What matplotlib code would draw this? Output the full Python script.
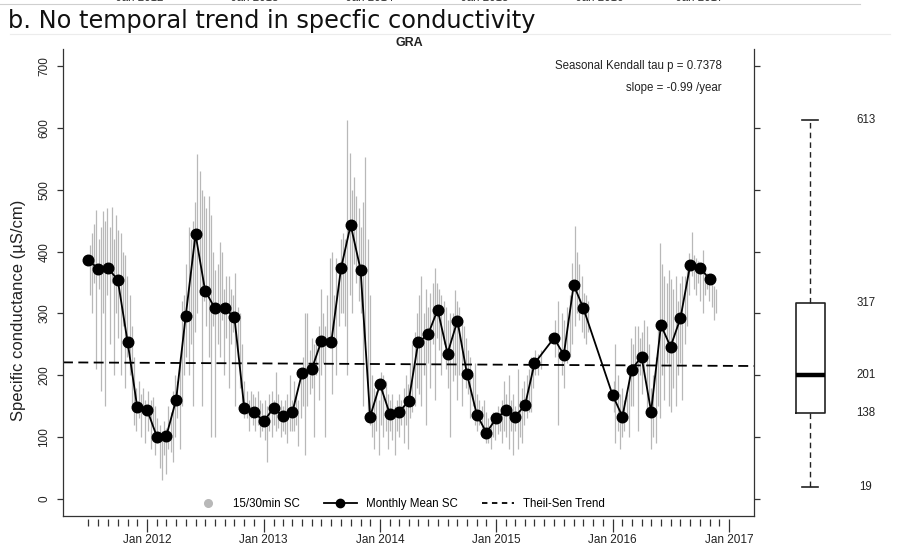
import matplotlib
matplotlib.use("Agg")
import matplotlib.pyplot as plt
import matplotlib.dates as mdates
from matplotlib.lines import Line2D

plt.rcParams['font.family'] = ['Liberation Sans', 'DejaVu Sans']

# ---------------------------------------------------------------- data
# Monthly mean specific conductance (uS/cm), plotted at the first of the month
month_labels = [
    '2011-07', '2011-08', '2011-09', '2011-10', '2011-11', '2011-12',
    '2012-01', '2012-02', '2012-03', '2012-04', '2012-05', '2012-06',
    '2012-07', '2012-08', '2012-09', '2012-10', '2012-11', '2012-12',
    '2013-01', '2013-02', '2013-03', '2013-04', '2013-05', '2013-06',
    '2013-07', '2013-08', '2013-09', '2013-10', '2013-11', '2013-12',
    '2014-01', '2014-02', '2014-03', '2014-04', '2014-05', '2014-06',
    '2014-07', '2014-08', '2014-09', '2014-10', '2014-11', '2014-12',
    '2015-01', '2015-02', '2015-03', '2015-04', '2015-05', '2015-07',
    '2015-08', '2015-09', '2015-10', '2016-01', '2016-02', '2016-03',
    '2016-04', '2016-05', '2016-06', '2016-07', '2016-08', '2016-09',
    '2016-10', '2016-11',
]
monthly_mean = [
    386, 372, 373, 354, 253, 148,
    144, 100, 101, 160, 295, 428,
    337, 308, 308, 294, 147, 141,
    125, 147, 134, 140, 203, 210,
    255, 253, 374, 443, 371, 133,
    185, 137, 140, 158, 253, 266,
    306, 235, 288, 202, 136, 107,
    130, 143, 133, 151, 219, 260,
    233, 346, 309, 168, 133, 209,
    230, 141, 281, 246, 292, 379,
    373, 356,
]

# 15/30-minute sensor record, summarised as weekly low/high spreads
streak_dates = [
    '2011-07-05', '2011-07-12', '2011-07-19', '2011-07-26', '2011-08-02', '2011-08-08',
    '2011-08-15', '2011-08-22', '2011-08-29', '2011-09-05', '2011-09-12', '2011-09-19',
    '2011-09-26', '2011-10-03', '2011-10-10', '2011-10-17', '2011-10-24', '2011-10-31',
    '2011-11-07', '2011-11-14', '2011-11-21', '2011-11-28', '2011-12-05', '2011-12-12',
    '2011-12-19', '2011-12-26', '2012-01-05', '2012-01-12', '2012-01-19', '2012-01-26',
    '2012-02-02', '2012-02-09', '2012-02-16', '2012-02-23', '2012-03-01', '2012-03-08',
    '2012-03-15', '2012-03-22', '2012-03-29', '2012-04-05', '2012-04-12', '2012-04-19',
    '2012-04-26', '2012-05-03', '2012-05-10', '2012-05-17', '2012-05-24', '2012-05-31',
    '2012-06-07', '2012-06-14', '2012-06-21', '2012-06-28', '2012-07-05', '2012-07-12',
    '2012-07-19', '2012-07-26', '2012-08-02', '2012-08-09', '2012-08-16', '2012-08-23',
    '2012-08-30', '2012-09-06', '2012-09-13', '2012-09-20', '2012-09-27', '2012-10-04',
    '2012-10-11', '2012-10-18', '2012-10-25', '2012-11-01', '2012-11-08', '2012-11-15',
    '2012-11-22', '2012-11-29', '2012-12-06', '2012-12-13', '2012-12-20', '2012-12-27',
    '2013-01-05', '2013-01-12', '2013-01-19', '2013-01-26', '2013-02-02', '2013-02-09',
    '2013-02-16', '2013-02-23', '2013-03-02', '2013-03-09', '2013-03-16', '2013-03-23',
    '2013-03-30', '2013-04-06', '2013-04-13', '2013-04-20', '2013-04-27', '2013-05-04',
    '2013-05-11', '2013-05-18', '2013-05-25', '2013-06-01', '2013-06-08', '2013-06-15',
    '2013-06-22', '2013-06-29', '2013-07-06', '2013-07-13', '2013-07-20', '2013-07-27',
    '2013-08-03', '2013-08-10', '2013-08-17', '2013-08-24', '2013-08-31', '2013-09-07',
    '2013-09-14', '2013-09-21', '2013-09-28', '2013-10-05', '2013-10-12', '2013-10-19',
    '2013-10-26', '2013-11-02', '2013-11-09', '2013-11-16', '2013-11-23', '2013-11-30',
    '2013-12-07', '2013-12-14', '2013-12-21', '2013-12-28', '2014-01-05', '2014-01-12',
    '2014-01-19', '2014-01-26', '2014-02-02', '2014-02-09', '2014-02-16', '2014-02-23',
    '2014-03-02', '2014-03-09', '2014-03-16', '2014-03-23', '2014-03-30', '2014-04-06',
    '2014-04-13', '2014-04-20', '2014-04-27', '2014-05-04', '2014-05-11', '2014-05-18',
    '2014-05-25', '2014-06-01', '2014-06-08', '2014-06-15', '2014-06-22', '2014-06-29',
    '2014-07-06', '2014-07-13', '2014-07-20', '2014-07-27', '2014-08-03', '2014-08-10',
    '2014-08-17', '2014-08-24', '2014-08-31', '2014-09-07', '2014-09-14', '2014-09-21',
    '2014-09-28', '2014-10-05', '2014-10-12', '2014-10-19', '2014-10-26', '2014-11-02',
    '2014-11-09', '2014-11-16', '2014-11-23', '2014-11-30', '2014-12-07', '2014-12-14',
    '2014-12-21', '2014-12-28', '2015-01-05', '2015-01-12', '2015-01-19', '2015-01-26',
    '2015-02-02', '2015-02-09', '2015-02-16', '2015-02-23', '2015-03-02', '2015-03-09',
    '2015-03-16', '2015-03-23', '2015-03-30', '2015-04-06', '2015-04-13', '2015-04-20',
    '2015-04-27', '2015-05-04', '2015-05-11', '2015-05-20', '2015-07-05', '2015-07-15',
    '2015-07-25', '2015-08-03', '2015-08-12', '2015-08-20', '2015-08-28', '2015-09-05',
    '2015-09-12', '2015-09-19', '2015-09-26', '2015-10-03', '2015-10-10', '2015-10-17',
    '2016-01-05', '2016-01-10', '2016-01-17', '2016-01-24', '2016-01-31', '2016-02-07',
    '2016-02-14', '2016-02-21', '2016-02-28', '2016-03-06', '2016-03-13', '2016-03-20',
    '2016-03-27', '2016-04-03', '2016-04-10', '2016-04-17', '2016-04-24', '2016-05-01',
    '2016-05-08', '2016-05-15', '2016-05-22', '2016-05-29', '2016-06-05', '2016-06-12',
    '2016-06-19', '2016-06-26', '2016-07-03', '2016-07-10', '2016-07-17', '2016-07-24',
    '2016-07-31', '2016-08-07', '2016-08-14', '2016-08-21', '2016-08-28', '2016-09-05',
    '2016-09-12', '2016-09-19', '2016-09-26', '2016-10-03', '2016-10-10', '2016-10-17',
    '2016-10-24', '2016-10-31', '2016-11-07', '2016-11-14', '2016-11-21',
]
streak_low = [
    330, 300, 350, 210, 340, 175, 300, 150, 330, 250, 350, 200,
    300, 260, 200, 280, 180, 230, 200, 150, 120, 110, 130, 100,
    140, 90, 110, 80, 120, 70, 90, 50, 30, 70, 40, 80,
    75, 60, 100, 130, 80, 150, 200, 230, 200, 250, 150, 270,
    300, 330, 150, 320, 280, 230, 100, 280, 100, 250, 230, 290,
    200, 260, 180, 250, 270, 150, 230, 180, 140, 130, 130, 110,
    130, 120, 110, 120, 100, 110, 95, 60, 110, 100, 120, 110,
    115, 100, 110, 105, 90, 110, 110, 110, 120, 85, 130, 150,
    70, 150, 170, 180, 100, 200, 160, 200, 220, 100, 250, 250,
    170, 250, 200, 280, 300, 300, 280, 200, 330, 300, 380, 350,
    320, 300, 150, 250, 140, 120, 100, 80, 110, 70, 120, 100,
    110, 80, 110, 95, 70, 110, 100, 120, 90, 120, 80, 130,
    140, 150, 180, 170, 150, 200, 120, 220, 180, 250, 160, 260,
    240, 200, 250, 210, 180, 100, 190, 200, 160, 200, 150, 220,
    180, 170, 130, 150, 120, 110, 120, 100, 110, 90, 90, 80,
    100, 95, 105, 110, 90, 110, 100, 80, 110, 70, 110, 80,
    100, 90, 120, 130, 140, 140, 180, 200, 200, 210, 230, 120,
    200, 180, 220, 230, 250, 280, 300, 290, 270, 260, 250, 270,
    140, 90, 110, 80, 100, 110, 130, 100, 150, 150, 200, 110,
    200, 170, 200, 140, 160, 80, 100, 90, 150, 130, 200, 160,
    220, 150, 140, 180, 150, 200, 220, 160, 250, 280, 330, 360,
    340, 330, 350, 320, 300, 330, 340, 320, 310, 290, 300,
]
streak_high = [
    410, 430, 445, 468, 420, 440, 465, 450, 470, 440, 473, 420,
    460, 435, 430, 400, 395, 360, 330, 280, 230, 180, 190, 170,
    180, 160, 175, 160, 165, 150, 130, 120, 110, 125, 115, 150,
    140, 175, 200, 190, 230, 320, 330, 380, 440, 420, 450, 480,
    558, 530, 500, 490, 470, 490, 460, 400, 370, 380, 415, 400,
    340, 360, 360, 340, 330, 366, 310, 300, 250, 190, 175, 160,
    175, 170, 165, 175, 160, 155, 160, 150, 170, 175, 160, 205,
    170, 160, 150, 160, 170, 200, 160, 190, 170, 160, 210, 230,
    300, 300, 240, 260, 250, 250, 280, 340, 300, 280, 330, 390,
    400, 330, 390, 380, 420, 430, 420, 613, 560, 500, 520, 490,
    470, 440, 480, 553, 420, 330, 200, 180, 175, 160, 205, 200,
    190, 170, 160, 170, 150, 160, 170, 160, 180, 200, 185, 220,
    250, 270, 300, 330, 360, 300, 340, 310, 333, 350, 374, 350,
    340, 330, 320, 310, 290, 300, 300, 338, 320, 310, 290, 280,
    260, 240, 230, 200, 220, 170, 160, 150, 160, 140, 130, 125,
    140, 135, 150, 140, 160, 190, 170, 200, 160, 170, 150, 210,
    160, 180, 190, 200, 210, 230, 230, 240, 235, 240, 290, 320,
    300, 290, 310, 330, 382, 441, 400, 380, 360, 333, 330, 320,
    190, 250, 200, 170, 180, 160, 170, 200, 260, 250, 279, 280,
    260, 270, 290, 280, 250, 180, 200, 230, 290, 414, 380, 360,
    350, 370, 355, 340, 360, 320, 350, 360, 360, 380, 398, 432,
    395, 390, 385, 380, 403, 370, 365, 360, 350, 345, 340,
]

# Theil-Sen trend
trend_slope_per_year = -0.99
trend_ref_date = '2014-01-01'
trend_ref_value = 218.0

# Distribution summary of the sensor record
box_whislo, box_q1, box_med, box_q3, box_whishi = 19, 138, 201, 317, 613

year_ticks = ['2012-01-01', '2013-01-01', '2014-01-01', '2015-01-01', '2016-01-01', '2017-01-01']
year_tick_labels = ['Jan 2012', 'Jan 2013', 'Jan 2014', 'Jan 2015', 'Jan 2016', 'Jan 2017']
y_ticks = [0, 100, 200, 300, 400, 500, 600, 700]

# ---------------------------------------------------------------- figure
W, H = 899, 550
fig = plt.figure(figsize=(W / 100, H / 100), dpi=100)
fig.patch.set_facecolor('white')


def fx(px):
    return px / W


def fy(py):
    return 1 - py / H


left, right, top, bottom = 63, 754, 49, 516
ax = fig.add_axes([fx(left), fy(bottom), fx(right - left), (bottom - top) / H])

ylim = (-28, 728)
xlim = (mdates.datestr2num('2011-04-12'), mdates.datestr2num('2017-03-20'))
ax.set_ylim(*ylim)
ax.set_xlim(*xlim)

gray = '#b8b8b8'
sd = mdates.datestr2num(streak_dates)
ax.vlines(sd, streak_low, streak_high, colors=gray, lw=0.9, zorder=1)

md = mdates.datestr2num([m + '-01' for m in month_labels])
ax.plot(md, monthly_mean, color='black', lw=1.3, marker='o', ms=7.6, zorder=3)

x_ref = mdates.datestr2num(trend_ref_date)
ax.axline((x_ref, trend_ref_value), slope=trend_slope_per_year / 365.25,
          color='black', lw=1.3, ls=(0, (5.5, 3)), zorder=2)

# spines: open top, bottom edge drawn as a box line, ticks offset below it
ax.spines['top'].set_visible(False)
for s in ('left', 'right'):
    ax.spines[s].set_linewidth(0.9)
    ax.spines[s].set_color('#333333')
ax.spines['bottom'].set_visible(False)
ax.spines['bottom'].set_position(('outward', 2.2))
ax.plot([0, 1], [0, 0], transform=ax.transAxes, color='#333333', lw=0.9, clip_on=False)

ax.set_yticks(y_ticks)
ax.set_yticklabels([str(v) for v in y_ticks], rotation=90, va='center')
ax.tick_params(axis='y', which='both', direction='out', length=4, width=0.9,
               color='#333333', labelsize=8.5, labelcolor='#222222', pad=5,
               right=True, labelright=False)

ax.set_xticks(mdates.datestr2num(year_ticks))
ax.set_xticklabels(year_tick_labels)
ax.xaxis.set_minor_locator(mdates.MonthLocator())
ax.tick_params(axis='x', which='major', direction='out', length=9, width=0.9,
               color='#333333', labelsize=8.5, labelcolor='#222222', pad=2)
ax.tick_params(axis='x', which='minor', direction='out', length=5, width=0.9,
               color='#333333')
ax.set_xlim(*xlim)
# monthly minor ticks over the measured period only
ax.set_xticks([x for x in ax.xaxis.get_minorticklocs()
               if mdates.datestr2num('2011-06-15') < x < mdates.datestr2num('2017-01-15')],
              minor=True)
ax.set_xlim(*xlim)

ax.set_ylabel('Specific conductance (\u00b5S/cm)', fontsize=12, color='#222222')
ax.yaxis.label.set_va('center')
ax.yaxis.set_label_coords((18 - left) / (right - left), (bottom - 310) / (bottom - top))

# legend
handles = [
    Line2D([], [], color=gray, marker='o', ls='none', ms=5.5),
    Line2D([], [], color='black', marker='o', ms=6, lw=1.3),
    Line2D([], [], color='black', lw=1.3, ls=(0, (3, 2.5))),
]
ax.legend(handles, ['15/30min SC', 'Monthly Mean SC', 'Theil-Sen Trend'],
          ncol=3, loc='center',
          bbox_to_anchor=((398.5 - left) / (right - left), (bottom - 504) / (bottom - top)),
          frameon=False, fontsize=8.3, handlelength=2.8, handletextpad=0.8,
          columnspacing=2.1)

# annotations
fig.text(fx(722), fy(66), 'Seasonal Kendall tau p = 0.7378', ha='right', va='center',
         fontsize=8.3, color='#222222')
fig.text(fx(722), fy(88), 'slope = -0.99 /year', ha='right', va='center',
         fontsize=8.3, color='#222222')
fig.text(fx(409), fy(43), 'GRA', ha='center', va='center', fontsize=9,
         fontweight='bold', color='#222222')

# boxplot of the full record
bx = fig.add_axes([fx(780), fy(bottom), fx(60), (bottom - top) / H])
bx.set_ylim(*ylim)
bx.set_xlim(0, 1)
bx.axis('off')
stats = [dict(whislo=box_whislo, q1=box_q1, med=box_med, q3=box_q3, whishi=box_whishi)]
bx.bxp(stats, positions=[0.5], widths=29 / 60, showfliers=False, capwidths=0.26,
       boxprops=dict(color='#222222', lw=1.2),
       whiskerprops=dict(color='#222222', lw=1.0, ls=(0, (4, 3))),
       capprops=dict(color='#222222', lw=1.2),
       medianprops=dict(color='black', lw=3.2))
for v in (box_whishi, box_q3, box_med, box_q1, box_whislo):
    bx.text((866 - 780) / 60, v, f'{v}', ha='center', va='center', fontsize=8.3,
            color='#222222', clip_on=False)

# panel heading
fig.text(fx(8), fy(21), 'b. No temporal trend in specfic conductivity',
         family='DejaVu Sans', fontsize=17.3, va='center', ha='left', color='#111111')

# frame line of the embedded chart and the edge of the panel above
fig.add_artist(Line2D([fx(10), fx(890)], [fy(34), fy(34)], color='#ececec', lw=0.8))
fig.add_artist(Line2D([fx(0), fx(860)], [fy(3.5), fy(3.5)], color='#cfcfcf', lw=0.8))
for xp, lab in zip([140, 255, 370, 485, 600, 700], year_tick_labels):
    fig.text(fx(xp), 1.004, lab, ha='center', va='center', fontsize=8.3, color='#333333')

fig.savefig('out.png', dpi=100, facecolor='white')
